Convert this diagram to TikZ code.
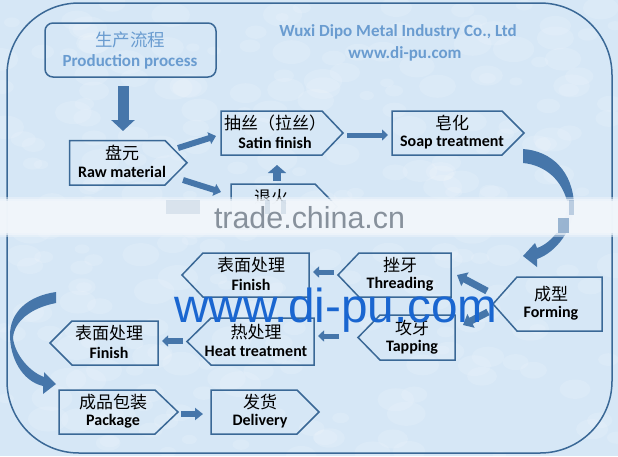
\documentclass[tikz,border=0pt]{standalone}
\usepackage{fontspec}
\setmainfont{Carlito}
\newfontfamily\cjk{Noto Sans CJK SC}
\newfontfamily\wm{Liberation Sans}
\usetikzlibrary{arrows.meta}
\definecolor{bg}{HTML}{D6E7F6}
\definecolor{edge}{HTML}{3A6896}
\definecolor{arrowblue}{HTML}{4676AA}
\definecolor{headblue}{HTML}{6A9CD0}
\definecolor{wmblue}{HTML}{1A66D0}
\definecolor{bandc}{HTML}{F1F6FB}
\definecolor{tradegray}{HTML}{87919C}
\tikzset{
  boxline/.style={draw=edge,line width=1.5pt},
  label/.style={align=center,inner sep=0pt,text=black},
  zh/.style={label,font=\cjk\fontsize{17}{17}\selectfont},
  en/.style={label,font=\bfseries\fontsize{16}{16}\selectfont},
  headzh/.style={label,text=headblue,font=\cjk\fontsize{17.5}{18}\selectfont},
  headen/.style={label,text=headblue,font=\bfseries\fontsize{17}{17}\selectfont},
  blockarrow/.style={draw=arrowblue,line width=#1},
  blockarrow/.default=5pt,
}
% right-pointing box: name, x1, shoulder, tip, y1, y2, text x, zh, en
\newcommand{\rbox}[9]{%
  \draw[boxline] (#2,#5) -- (#3,#5) -- (#4,{(#5+#6)/2}) -- (#3,#6) -- (#2,#6) -- cycle;
  \node[zh] (#1zh) at ({#7},{(#5+#6)/2-9.5}) {#8};
  \node[en] (#1) at ({#7},{(#5+#6)/2+9.5}) {#9};
}
% left-pointing box: name, tip, shoulder, right, y1, y2, text x, zh, en
\newcommand{\lbox}[9]{%
  \draw[boxline] (#2,{(#5+#6)/2}) -- (#3,#5) -- (#4,#5) -- (#4,#6) -- (#3,#6) -- cycle;
  \node[zh] (#1zh) at ({#7},{(#5+#6)/2-9.5}) {#8};
  \node[en] (#1) at ({#7},{(#5+#6)/2+9.5}) {#9};
}
\newcommand{\barrow}[5]{% from, to, shaft, head width, head length
  \draw[blockarrow=#3,-{Triangle[length=#5,width=#4]},arrowblue] (#1) -- (#2);
}
\begin{document}
\begin{tikzpicture}[x=1pt,y=-1pt]
\useasboundingbox (0,0) rectangle (618,456);
\fill[bg] (0,0) rectangle (618,456);
% mottled paper
\pgfmathsetseed{7}
\foreach \i in {1,...,260}{
  \pgfmathsetmacro{\px}{rnd*618}
  \pgfmathsetmacro{\py}{rnd*456}
  \pgfmathsetmacro{\pr}{4+rnd*9}
  \fill[white,opacity=.13] (\px,\py) ellipse ({\pr*1.6pt} and {\pr*1pt});
}
\draw[edge,line width=1.5pt,rounded corners=72pt] (7,3) rectangle (612,453);

% header
\draw[boxline,rounded corners=8pt] (45,23) rectangle (216,77);
\node[headzh] (title) at (130,40) {生产流程};
\node[headen] (titleen) at (130,62) {Production process};
\node[headen] (company) at (398,32) {Wuxi Dipo Metal Industry Co., Ltd};
\node[headen] (site) at (405,54) {www.di-pu.com};

% boxes
\rbox{raw}{69.5}{165}{187}{140.5}{185}{122}{盘元}{Raw material}
\rbox{satin}{221}{322}{343}{111}{155}{275}{抽丝（拉丝）}{Satin finish}
\rbox{soap}{392}{502}{524}{111}{155}{452}{皂化}{Soap treatment}
\rbox{anneal}{231}{315}{337}{184}{229}{271}{退火}{}
\lbox{thread}{338}{359}{451}{253}{297}{400}{挫牙}{Threading}
\lbox{finisha}{182}{203}{309}{253}{297}{251}{表面处理}{Finish}
\lbox{heat}{187}{211}{314}{318}{365}{256}{热处理}{Heat treatment}
\lbox{tap}{358}{380}{455}{315}{360}{412}{攻牙}{Tapping}
\lbox{form}{493}{517}{602}{277}{331}{551}{成型}{Forming}
\lbox{finishb}{50}{72}{158}{321}{365}{109}{表面处理}{Finish}
\rbox{pack}{59}{155}{178}{390}{434}{113}{成品包装}{Package}
\rbox{deliv}{211}{297}{319}{390}{434}{260}{发货}{Delivery}

% connector ends
\coordinate (a1) at (123,86);   \coordinate (a2) at (123,131);
\coordinate (b1) at (178,148);  \coordinate (b2) at (216,136);
\coordinate (c1) at (183,180);  \coordinate (c2) at (221,192);
\coordinate (d1) at (277,181);  \coordinate (d2) at (277,165);
\coordinate (e1) at (347,135);  \coordinate (e2) at (388,135);
\coordinate (f1) at (334,272);  \coordinate (f2) at (313,272);
\coordinate (g1) at (339,336);  \coordinate (g2) at (318,336);
\coordinate (h1) at (183,341);  \coordinate (h2) at (162,341);
\coordinate (i1) at (181,414);  \coordinate (i2) at (203,414);
\coordinate (j1) at (487,291);  \coordinate (j2) at (457,275);
\coordinate (k1) at (488,312);  \coordinate (k2) at (463,325);
\barrow{a1}{a2}{11pt}{23pt}{11pt}
\barrow{b1}{b2}{6pt}{12pt}{7pt}
\barrow{c1}{c2}{6pt}{12pt}{7pt}
\barrow{d1}{d2}{8pt}{18pt}{8pt}
\barrow{e1}{e2}{5pt}{11pt}{6pt}
\barrow{f1}{f2}{5pt}{11pt}{6pt}
\barrow{g1}{g2}{5pt}{11pt}{6pt}
\barrow{h1}{h2}{6pt}{11pt}{6pt}
\barrow{i1}{i2}{6pt}{12pt}{8pt}
\barrow{j1}{j2}{7pt}{15pt}{9pt}
\barrow{k1}{k2}{7pt}{15pt}{9pt}

% curved arrows
\fill[arrowblue] (523,149) .. controls (552,151) and (573,172) .. (574,205)
  .. controls (574,228) and (557,252) .. (537,259) -- (537,267) -- (523,256) -- (535,243) -- (537,248)
  .. controls (552,243) and (565,225) .. (568,205)
  .. controls (563,180) and (545,165) .. (523,163) -- cycle;
\fill[arrowblue] (56,292) .. controls (28,296) and (10,312) .. (10,335)
  .. controls (10,358) and (22,381) .. (43,386) -- (43,394) -- (56,384) -- (44,372) -- (44,377)
  .. controls (30,372) and (15,355) .. (13,338)
  .. controls (14,322) and (30,308) .. (56,303) -- cycle;

% pale band with site mark
\fill[bandc,opacity=.45] (0,197) rectangle (618,237);
\fill[bandc,opacity=.7] (0,199) rectangle (618,235);
\fill[bandc,opacity=.9] (0,201) rectangle (618,233);
\fill[edge,opacity=.12] (166,200) rectangle (200,214);
\fill[edge,opacity=.14] (265,200) rectangle (270,214);
\fill[edge,opacity=.14] (281,200) rectangle (286,214);
\fill[arrowblue,opacity=.5] (558,218) rectangle (569,233);
\fill[arrowblue,opacity=.3] (569,200) rectangle (574,215);
\node[font=\wm\fontsize{30.4}{30}\selectfont,text=tradegray,inner sep=0pt,anchor=base] (trade) at (309.5,228) {trade.china.cn};

% watermark
\node[font=\wm\fontsize{47.7}{48}\selectfont,text=wmblue,inner sep=0pt,anchor=base] (wmark) at (336,322) {www.di-pu.com};
\end{tikzpicture}
\end{document}
